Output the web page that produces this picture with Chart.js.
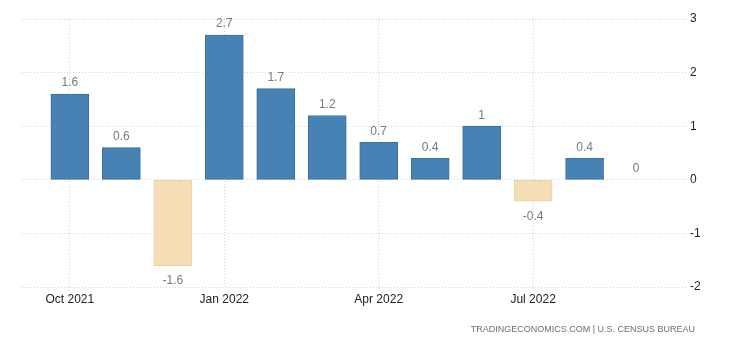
<!DOCTYPE html>
<html>
<head>
<meta charset="utf-8">
<script src="https://cdn.jsdelivr.net/npm/chart.js@4"></script>
<style>
  html, body { margin: 0; padding: 0; background: #fff; }
  #wrap { width: 740px; height: 345px; position: relative; }
</style>
</head>
<body>
<div id="wrap"><canvas id="c" width="740" height="345"></canvas></div>
<script>
const months = ['Oct 2021','Nov 2021','Dec 2021','Jan 2022','Feb 2022','Mar 2022',
                'Apr 2022','May 2022','Jun 2022','Jul 2022','Aug 2022','Sep 2022'];
const values = [1.6, 0.6, -1.6, 2.7, 1.7, 1.2, 0.7, 0.4, 1, -0.4, 0.4, 0];
const tickLabels = ['Oct 2021','Jan 2022','Apr 2022','Jul 2022'];
const yTicks = [-2, -1, 0, 1, 2, 3];
const source = 'TRADINGECONOMICS.COM | U.S. CENSUS BUREAU';

const FONT = '"Liberation Sans", Arial, sans-serif';
const POS = '#4682b4', NEG = '#f5deb3';

const valueLabels = {
  id: 'valueLabels',
  afterDatasetsDraw(chart){
    const ctx = chart.ctx;
    const meta = chart.getDatasetMeta(0);
    ctx.save();
    ctx.font = '12px ' + FONT;
    ctx.fillStyle = '#7a7a7a';
    ctx.textAlign = 'center';
    ctx.textBaseline = 'middle';
    meta.data.forEach((bar, i) => {
      const v = values[i];
      const y = v < 0 ? bar.y + 15 : bar.y - 11;
      ctx.fillText(String(v), bar.x, y);
    });
    ctx.restore();
  },
  afterDraw(chart){
    const ctx = chart.ctx;
    ctx.save();
    ctx.font = '9px ' + FONT;
    ctx.fillStyle = '#6f6f6f';
    ctx.textAlign = 'right';
    ctx.textBaseline = 'middle';
    ctx.fillText(source, 695, 330);
    ctx.restore();
  }
};

new Chart(document.getElementById('c'), {
  type: 'bar',
  data: {
    datasets: [{
      data: values.map((v, i) => ({ x: i, y: v })),
      backgroundColor: c => (values[c.dataIndex] < 0 ? NEG : POS),
      borderColor: c => (values[c.dataIndex] < 0 ? '#ecd3a6' : '#3b6f9c'),
      borderWidth: 1,
      borderSkipped: false,
      barThickness: 38
    }]
  },
  options: {
    responsive: false,
    animation: false,
    layout: { padding: { left: 22, top: 19, right: 0, bottom: 0 } },
    plugins: { legend: { display: false }, tooltip: { enabled: false } },
    scales: {
      x: {
        type: 'linear',
        offset: false,
        min: -0.93,
        max: 11.97,
        afterBuildTicks: s => { s.ticks = tickLabels.map(t => ({ value: months.indexOf(t) })); },
        afterFit: s => { s.height = 58; },
        ticks: {
          autoSkip: false,
          maxRotation: 0,
          padding: 5,
          color: '#222',
          font: { family: FONT, size: 12 },
          callback: v => months[v]
        },
        grid: { offset: false, color: '#d4d4d4', drawTicks: false, lineWidth: 1 },
        border: { display: false, dash: [1, 2] }
      },
      y: {
        position: 'right',
        min: -2,
        max: 3,
        afterBuildTicks: s => { s.ticks = yTicks.map(v => ({ value: v })); },
        afterFit: s => { s.width = 54; },
        ticks: {
          padding: 4,
          color: '#222',
          font: { family: FONT, size: 12 },
          crossAlign: 'near'
        },
        grid: { color: '#d4d4d4', drawTicks: false, lineWidth: 1 },
        border: { display: false, dash: [1, 2] }
      }
    }
  },
  plugins: [valueLabels]
});
</script>
</body>
</html>
